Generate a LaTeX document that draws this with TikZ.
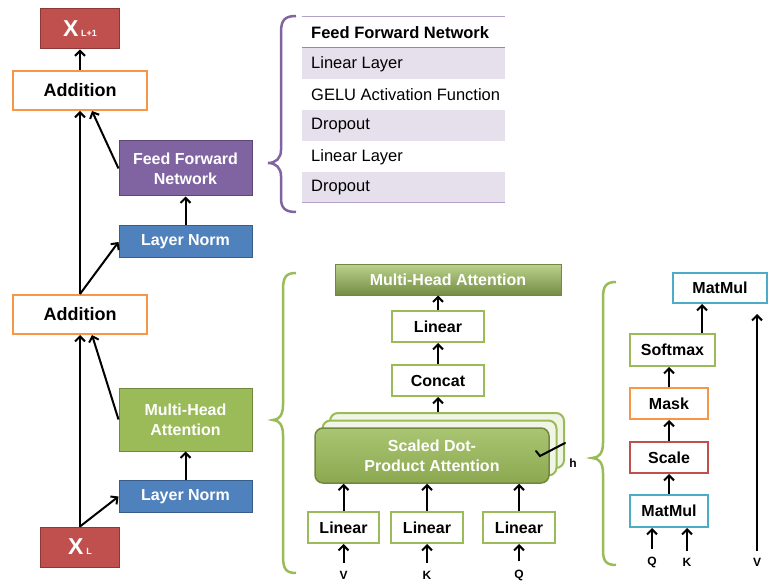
\documentclass[tikz,border=0pt]{standalone}
\usepackage{fontspec}
\setmainfont{Liberation Sans}
\usetikzlibrary{arrows.meta}

\definecolor{xred}{HTML}{C0504D}
\definecolor{xredline}{HTML}{8C3836}
\definecolor{addorange}{HTML}{F79646}
\definecolor{ffpurple}{HTML}{8064A2}
\definecolor{ffpurpleline}{HTML}{5C4776}
\definecolor{lnblue}{HTML}{4F81BD}
\definecolor{lnblueline}{HTML}{385D8A}
\definecolor{attgreen}{HTML}{9BBB59}
\definecolor{attgreenline}{HTML}{71893F}
\definecolor{mmblue}{HTML}{4BACC6}
\definecolor{rowshade}{HTML}{E5E0EC}
\definecolor{rowline}{HTML}{B3A2C7}

\tikzset{
  box/.style={draw, inner sep=0pt, align=center, font=\fontsize{16}{20}\selectfont\bfseries},
  colbox/.style={box, text=white, line width=1pt, minimum width=133pt},
  xbox/.style={colbox, fill=xred, draw=xredline, minimum width=79pt, minimum height=40pt},
  addbox/.style={box, draw=addorange, line width=2pt, fill=white, minimum width=134pt,
    minimum height=39pt, font=\fontsize{18}{20}\selectfont\bfseries},
  ffnbox/.style={colbox, fill=ffpurple, draw=ffpurpleline, minimum height=55pt},
  lnbox/.style={colbox, fill=lnblue, draw=lnblueline, minimum height=32pt},
  mhabox/.style={colbox, fill=attgreen, draw=attgreenline, minimum height=63pt},
  wbox/.style={box, draw=#1, line width=2pt, fill=white, minimum height=31pt},
  sdpaback/.style={box, draw=attgreen, line width=2pt, fill=attgreen!15!white,
    rounded corners=8pt, minimum width=234pt, minimum height=55pt},
  sdpafront/.style={sdpaback, draw=attgreenline, line width=1.5pt, text=white,
    top color=attgreen!85!white, bottom color=attgreen!90!black},
  mhbar/.style={box, draw=attgreenline, line width=1pt, text=white,
    top color=attgreen!70!white, bottom color=attgreen!75!black,
    minimum width=226pt, minimum height=30pt},
  tabtxt/.style={anchor=west, inner sep=0pt, font=\fontsize{16.5}{16.5}\selectfont},
  lbl/.style={inner sep=1pt, font=\fontsize{12}{12}\selectfont\bfseries},
  arr/.style={-{Straight Barb[length=5pt,width=10pt]}, line width=2pt},
  brace/.style={line width=2.5pt}
}

\begin{document}
\begin{tikzpicture}[x=1pt, y=-1pt]
    \useasboundingbox (0,0) rectangle (768,585);

    % left column
    \node[xbox] (xtop) at (80,29) {{\fontsize{23}{23}\selectfont X}\,{\fontsize{9}{9}\selectfont L+1}};
    \node[addbox] (addtop) at (80,90.5) {Addition};
    \node[ffnbox] (ffn) at (185.5,168.5) {Feed Forward\\Network};
    \node[lnbox] (lntop) at (185.5,242) {Layer Norm};
    \node[addbox] (addbot) at (80,314.5) {Addition};
    \node[mhabox] (mha) at (185.5,419.5) {Multi-Head\\Attention};
    \node[lnbox] (lnbot) at (185.5,496.5) {Layer Norm};
    \node[xbox] (xbot) at (80,547) {{\fontsize{23}{23}\selectfont X}\,{\fontsize{9}{9}\selectfont L}};

    \draw[arr] (xbot.north) -- (addbot.south);
    \draw[arr] (xbot.north) -- (lnbot.west);
    \draw[arr] (lnbot) -- (mha);
    \draw[arr] (mha.west) -- ([xshift=12pt]addbot.south);
    \draw[arr] (addbot.north) -- (addtop.south);
    \draw[arr] (addbot.north) -- (lntop.west);
    \draw[arr] (lntop) -- (ffn);
    \draw[arr] (ffn.west) -- ([xshift=12pt]addtop.south);
    \draw[arr] (addtop) -- (xtop);

    % feed forward table
    \draw[ffpurple, brace] (296,16) .. controls (285,16) and (281,20) .. (281,32) -- (281,150)
        .. controls (281,158) and (276,163) .. (268,163) .. controls (276,163) and (281,168) .. (281,176)
        -- (281,198) .. controls (281,208) and (285,212) .. (296,212);
    \fill[rowshade] (302,48) rectangle (505,79);
    \fill[rowshade] (302,110) rectangle (505,141);
    \fill[rowshade] (302,172) rectangle (505,203);
    \draw[rowline, line width=1pt] (302,17) -- (505,17);
    \draw[ffpurple!80!white, line width=1pt] (302,48) -- (505,48);
    \draw[rowline, line width=1pt] (302,203) -- (505,203);
    \node[tabtxt, font=\fontsize{16.5}{16.5}\selectfont\bfseries] (fhead) at (311,33) {Feed Forward Network};
    \node[tabtxt] (frow1) at (311,64) {Linear Layer};
    \node[tabtxt] (frow2) at (311,95) {GELU Activation Function};
    \node[tabtxt] (frow3) at (311,126) {Dropout};
    \node[tabtxt] (frow4) at (311,157) {Linear Layer};
    \node[tabtxt] (frow5) at (311,188) {Dropout};

    % multi-head attention
    \draw[attgreen, brace] (296,273) .. controls (286,273) and (283,277) .. (283,290) -- (283,405)
        .. controls (283,415) and (279,420) .. (273,420) .. controls (279,420) and (283,425) .. (283,435)
        -- (283,556) .. controls (283,569) and (286,573) .. (296,573);
    \node[mhbar] (mhbar) at (448,280) {Multi-Head Attention};
    \node[wbox=attgreen, minimum width=92pt] (linout) at (438,326.5) {Linear};
    \node[wbox=attgreen, minimum width=92pt] (concat) at (438,380.5) {Concat};
    \node[sdpaback] (sdpa2) at (447,440.5) {};
    \node[sdpaback] (sdpa1) at (439.5,448) {};
    \node[sdpafront] (sdpa) at (432,455.5) {Scaled Dot-\\Product Attention};
    \node[wbox=attgreen, minimum width=71pt] (linv) at (343.5,527.5) {Linear};
    \node[wbox=attgreen, minimum width=72pt] (link) at (427,527.5) {Linear};
    \node[wbox=attgreen, minimum width=72pt] (linq) at (519,527.5) {Linear};
    \node[lbl] (vin) at (343.5,575) {V};
    \node[lbl] (kin) at (427,575) {K};
    \node[lbl] (qin) at (519,575) {Q};
    \node[lbl] (hlbl) at (573,463) {h};
    \draw[line width=2pt, line cap=round] (536,451) -- (540,456) -- (565,443);

    \draw[arr, shorten <=7pt] (vin) -- (linv);
    \draw[arr, shorten <=7pt] (kin) -- (link);
    \draw[arr, shorten <=7pt] (qin) -- (linq);
    \draw[arr] (linv) -- (linv |- sdpa.south);
    \draw[arr] (link) -- (link |- sdpa.south);
    \draw[arr] (linq) -- (linq |- sdpa.south);
    \draw[arr] (sdpa2.north -| concat) -- (concat);
    \draw[arr] (concat) -- (linout);
    \draw[arr] (linout) -- (linout |- mhbar.south);

    % scaled dot-product attention
    \draw[attgreen, brace] (616,282) .. controls (606,282) and (603,286) .. (603,298) -- (603,443)
        .. controls (603,453) and (599,458) .. (592,458) .. controls (599,458) and (603,463) .. (603,473)
        -- (603,550) .. controls (603,561) and (606,565) .. (616,565);
    \node[wbox=mmblue, minimum width=94pt, minimum height=30pt] (mmtop) at (720,288) {MatMul};
    \node[wbox=attgreen, minimum width=85pt, minimum height=32pt] (softmax) at (672.5,350) {Softmax};
    \node[wbox=addorange, minimum width=78pt] (mask) at (669,403.5) {Mask};
    \node[wbox=xred, minimum width=78pt] (scale) at (669,457.5) {Scale};
    \node[wbox=mmblue, minimum width=78pt, minimum height=32pt] (mmbot) at (669,511) {MatMul};
    \node[lbl] (qr) at (652,562) {Q};
    \node[lbl] (kr) at (687,562) {K};
    \node[lbl] (vr) at (757,562) {V};
    \coordinate (mmin) at ([xshift=-18pt]mmtop.south);

    \draw[arr, shorten <=6pt] (qr) -- (qr |- mmbot.south);
    \draw[arr, shorten <=6pt] (kr) -- (kr |- mmbot.south);
    \draw[arr] (mmbot) -- (scale);
    \draw[arr] (scale) -- (mask);
    \draw[arr] (mask.north) -- (mask.north |- softmax.south);
    \draw[arr] (mmin |- softmax.north) -- (mmin);
    \draw[arr, shorten <=6pt, shorten >=10pt] (vr) -- (vr |- mmtop.south);
\end{tikzpicture}
\end{document}
